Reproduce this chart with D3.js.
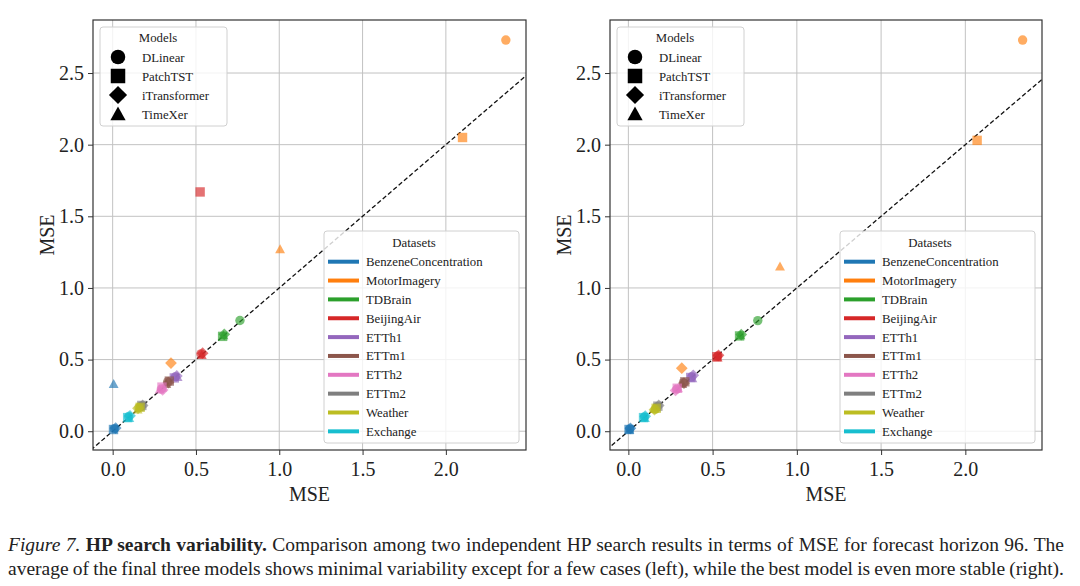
<!DOCTYPE html>
<html><head><meta charset="utf-8">
<script src="https://cdn.jsdelivr.net/npm/d3@7"></script>
<style>html,body{margin:0;padding:0;background:#fff;}svg{display:block;}</style>
</head><body>
<svg id="chart" width="1080" height="586"></svg>
<script>
const datasets = ["BenzeneConcentration","MotorImagery","TDBrain","BeijingAir","ETTh1","ETTm1","ETTh2","ETTm2","Weather","Exchange"];
const datasetColors = ["#1f77b4","#ff7f0e","#2ca02c","#d62728","#9467bd","#8c564b","#e377c2","#7f7f7f","#bcbd22","#17becf"];
const models = ["DLinear","PatchTST","iTransformer","TimeXer"];
const xTicks = [0.0,0.5,1.0,1.5,2.0];
const yTicks = [0.0,0.5,1.0,1.5,2.0,2.5];

// Left panel: run 1 (x) vs run 2 (y), average of final three models
const leftDLinearX      = [0.010, 2.360, 0.764, 0.530, 0.376, 0.330, 0.292, 0.170, 0.158, 0.096];
const leftDLinearY      = [0.018, 2.730, 0.773, 0.540, 0.380, 0.345, 0.295, 0.175, 0.165, 0.103];
const leftPatchTSTX     = [0.005, 2.100, 0.660, 0.525, 0.370, 0.340, 0.296, 0.175, 0.165, 0.090];
const leftPatchTSTY     = [0.012, 2.050, 0.662, 1.670, 0.372, 0.350, 0.308, 0.180, 0.167, 0.095];
const leftITransformerX = [0.018, 0.350, 0.670, 0.540, 0.385, 0.335, 0.300, 0.180, 0.152, 0.104];
const leftITransformerY = [0.022, 0.476, 0.676, 0.545, 0.386, 0.340, 0.288, 0.180, 0.160, 0.108];
const leftTimeXerX      = [0.006, 1.005, 0.665, 0.535, 0.390, 0.322, 0.282, 0.165, 0.150, 0.100];
const leftTimeXerY      = [0.330, 1.270, 0.670, 0.532, 0.378, 0.330, 0.292, 0.170, 0.152, 0.092];

// Right panel: best model
const rightDLinearX      = [0.008, 2.340, 0.768, 0.530, 0.376, 0.327, 0.287, 0.170, 0.159, 0.095];
const rightDLinearY      = [0.016, 2.730, 0.772, 0.525, 0.380, 0.339, 0.293, 0.170, 0.153, 0.100];
const rightPatchTSTX     = [0.004, 2.070, 0.660, 0.525, 0.370, 0.335, 0.290, 0.175, 0.165, 0.090];
const rightPatchTSTY     = [0.012, 2.030, 0.665, 0.520, 0.375, 0.345, 0.300, 0.175, 0.160, 0.095];
const rightITransformerX = [0.012, 0.317, 0.670, 0.535, 0.385, 0.330, 0.280, 0.180, 0.155, 0.100];
const rightITransformerY = [0.020, 0.440, 0.675, 0.530, 0.390, 0.335, 0.285, 0.180, 0.150, 0.105];
const rightTimeXerX      = [0.006, 0.900, 0.665, 0.530, 0.380, 0.320, 0.295, 0.165, 0.150, 0.098];
const rightTimeXerY      = [0.010, 1.150, 0.670, 0.515, 0.370, 0.330, 0.300, 0.165, 0.155, 0.092];

const captionLine1 = [["Figure 7. ","italic"],["HP search variability.","bold"],[" Comparison among two independent HP search results in terms of MSE for forecast horizon 96. The","normal"]];
const captionLine2 = [["average of the final three models shows minimal variability except for a few cases (left), while the best model is even more stable (right).","normal"]];

const svg = d3.select("#chart");
const FONT = "'Liberation Serif','Times New Roman',serif";

function markerPath(model, size) {
  const h = size / 2;
  if (model === "DLinear") return d3.symbol(d3.symbolCircle, Math.PI * h * h)();
  if (model === "PatchTST") return `M${-h},${-h}L${h},${-h}L${h},${h}L${-h},${h}Z`;
  if (model === "iTransformer") { const d = h * 1.25; return `M0,${-d}L${d},0L0,${d}L${-d},0Z`; }
  return `M0,${-h * 1.05}L${h * 1.05},${h * 0.85}L${-h * 1.05},${h * 0.85}Z`;
}

function drawPanel(cfg, idx) {
  const x = d3.scaleLinear().domain(cfg.xDomain).range([cfg.left, cfg.right]);
  const y = d3.scaleLinear().domain(cfg.yDomain).range([cfg.bottom, cfg.top]);
  const g = svg.append("g");
  const clipId = "clip" + idx;
  svg.append("clipPath").attr("id", clipId).append("rect")
    .attr("x", cfg.left).attr("y", cfg.top).attr("width", cfg.right - cfg.left).attr("height", cfg.bottom - cfg.top);

  // grid
  g.append("g").selectAll("line").data(xTicks).join("line")
    .attr("x1", d => x(d)).attr("x2", d => x(d)).attr("y1", cfg.top).attr("y2", cfg.bottom)
    .attr("stroke", "#c2c2c2").attr("stroke-width", 1);
  g.append("g").selectAll("line").data(yTicks).join("line")
    .attr("y1", d => y(d)).attr("y2", d => y(d)).attr("x1", cfg.left).attr("x2", cfg.right)
    .attr("stroke", "#c2c2c2").attr("stroke-width", 1);

  // diagonal
  const lo = Math.min(cfg.xDomain[0], cfg.yDomain[0]), hi = Math.max(cfg.xDomain[1], cfg.yDomain[1]);
  g.append("line").attr("clip-path", `url(#${clipId})`)
    .attr("x1", x(lo)).attr("y1", y(lo)).attr("x2", x(hi)).attr("y2", y(hi))
    .attr("stroke", "#111").attr("stroke-width", 1.3).attr("stroke-dasharray", "4.5,2.5");

  // points
  const pts = [];
  datasets.forEach((ds, i) => {
    models.forEach((m, j) => {
      pts.push({ds: i, model: m, x: cfg.series[j][0][i], y: cfg.series[j][1][i]});
    });
  });
  g.append("g").attr("clip-path", `url(#${clipId})`).selectAll("path").data(pts).join("path")
    .attr("d", d => markerPath(d.model, 9.4))
    .attr("transform", d => `translate(${x(d.x)},${y(d.y)})`)
    .attr("fill", d => datasetColors[d.ds]).attr("fill-opacity", 0.65);

  // frame
  g.append("rect").attr("x", cfg.left).attr("y", cfg.top).attr("width", cfg.right - cfg.left).attr("height", cfg.bottom - cfg.top)
    .attr("fill", "none").attr("stroke", "#333").attr("stroke-width", 1.2);

  // axes
  const xAxis = d3.axisBottom(x).tickValues(xTicks).tickFormat(d3.format(".1f")).tickSize(5).tickPadding(4);
  const yAxis = d3.axisLeft(y).tickValues(yTicks).tickFormat(d3.format(".1f")).tickSize(5).tickPadding(4);
  const gx = g.append("g").attr("transform", `translate(0,${cfg.bottom})`).call(xAxis);
  const gy = g.append("g").attr("transform", `translate(${cfg.left},0)`).call(yAxis);
  [gx, gy].forEach(a => {
    a.attr("font-family", FONT);
    a.select(".domain").remove();
    a.selectAll(".tick line").attr("stroke", "#333").attr("stroke-width", 1);
    a.selectAll(".tick text").attr("font-family", FONT).attr("font-size", 20).attr("fill", "#222");
  });
  gx.selectAll(".tick text").attr("dy", "0.85em");

  // axis labels
  g.append("text").attr("x", (cfg.left + cfg.right) / 2).attr("y", 501).attr("text-anchor", "middle")
    .attr("font-family", FONT).attr("font-size", 20).attr("fill", "#222").text("MSE");
  g.append("text").attr("transform", `translate(${cfg.left - 39},${(cfg.top + cfg.bottom) / 2}) rotate(-90)`)
    .attr("text-anchor", "middle").attr("font-family", FONT).attr("font-size", 20).attr("fill", "#222").text("MSE");

  // Models legend
  const ml = g.append("g").attr("transform", `translate(${cfg.left + 7},${cfg.top + 7})`);
  ml.append("rect").attr("width", 127).attr("height", 99).attr("rx", 3)
    .attr("fill", "#fff").attr("fill-opacity", 0.8).attr("stroke", "#d0d0d0");
  ml.append("text").attr("x", 58).attr("y", 15).attr("text-anchor", "middle")
    .attr("font-family", FONT).attr("font-size", 12.8).attr("fill", "#222").text("Models");
  models.forEach((m, j) => {
    const cy = 30 + j * 19;
    ml.append("path").attr("d", markerPath(m, 14.5)).attr("transform", `translate(18,${cy})`).attr("fill", "#000");
    ml.append("text").attr("x", 42).attr("y", cy + 4.5).attr("font-family", FONT).attr("font-size", 12.8)
      .attr("fill", "#222").text(m);
  });

  // Datasets legend
  const dl = g.append("g").attr("transform", `translate(${cfg.right - 202},${cfg.top + 211})`);
  dl.append("rect").attr("width", 195).attr("height", 212).attr("rx", 3)
    .attr("fill", "#fff").attr("fill-opacity", 0.8).attr("stroke", "#d0d0d0");
  dl.append("text").attr("x", 90).attr("y", 16).attr("text-anchor", "middle")
    .attr("font-family", FONT).attr("font-size", 12.8).attr("fill", "#222").text("Datasets");
  datasets.forEach((ds, i) => {
    const cy = 30.7 + i * 18.85;
    dl.append("line").attr("x1", 4).attr("x2", 35).attr("y1", cy).attr("y2", cy)
      .attr("stroke", datasetColors[i]).attr("stroke-width", 4);
    dl.append("text").attr("x", 42).attr("y", cy + 4.5).attr("font-family", FONT).attr("font-size", 12.8)
      .attr("fill", "#222").text(ds);
  });
}

drawPanel({left: 93, right: 526, top: 20, bottom: 450, xDomain: [-0.118, 2.481], yDomain: [-0.131, 2.87],
  series: [[leftDLinearX, leftDLinearY], [leftPatchTSTX, leftPatchTSTY], [leftITransformerX, leftITransformerY], [leftTimeXerX, leftTimeXerY]]}, 0);
drawPanel({left: 610, right: 1042, top: 20, bottom: 450, xDomain: [-0.109, 2.455], yDomain: [-0.131, 2.87],
  series: [[rightDLinearX, rightDLinearY], [rightPatchTSTX, rightPatchTSTY], [rightITransformerX, rightITransformerY], [rightTimeXerX, rightTimeXerY]]}, 1);

// caption
function captionLine(parts, yPos) {
  const t = svg.append("text").attr("x", 8).attr("y", yPos).attr("font-family", FONT)
    .attr("font-size", 19.5).attr("fill", "#222").attr("xml:space", "preserve");
  parts.forEach(([s, style]) => {
    const ts = t.append("tspan").text(s);
    if (style === "italic") ts.attr("font-style", "italic");
    if (style === "bold") ts.attr("font-weight", "bold");
  });
  const target = 1064 - 8;
  const w = t.node().getComputedTextLength();
  const spaces = parts.map(p => p[0]).join("").split(" ").length - 1;
  t.attr("word-spacing", (target - w) / spaces);
}
captionLine(captionLine1, 551);
captionLine(captionLine2, 575);
</script>
</body></html>
